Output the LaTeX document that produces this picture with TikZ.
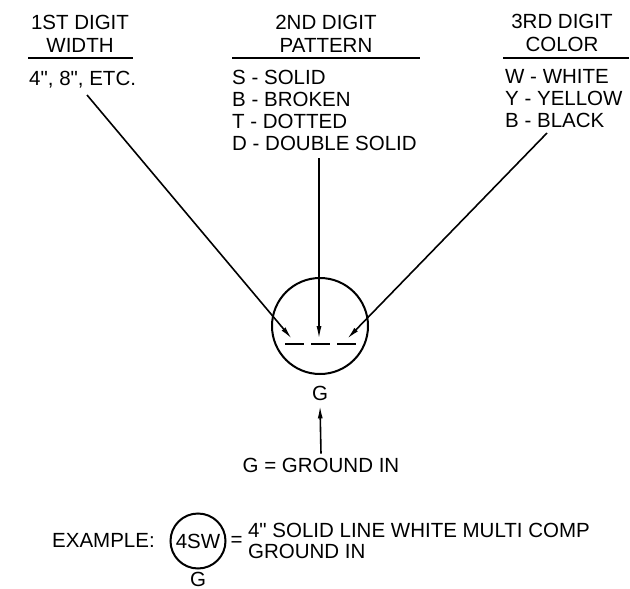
\documentclass[tikz,border=0pt]{standalone}
\usepackage{fontspec}
\setmainfont{Liberation Sans}[Ligatures=TeXOff]
\usetikzlibrary{arrows.meta, positioning}

\begin{document}
\begin{tikzpicture}[x=1pt, y=-1pt,
    head/.style={align=center, inner sep=0pt, font=\fontsize{20.5}{23}\selectfont},
    list/.style={align=left, inner sep=0pt, anchor=north west,
                 font=\fontsize{20.5}{22}\selectfont},
    rule/.style={line width=2.2pt},
    arr/.style={->, line width=1.6pt},
    >={Latex[length=13pt, width=5pt]}]
  \useasboundingbox (0,0) rectangle (630,589);
  % column heads
  \node[head] (h1) at (80,34) {1ST DIGIT\\ WIDTH};
  \node[head] (h2) at (326,34) {2ND DIGIT\\ PATTERN};
  \node[head] (h3) at (562,33) {3RD DIGIT\\ COLOR};
  \draw[rule] (28,58) -- (133,58);
  \draw[rule] (232,58) -- (420,58);
  \draw[rule] (503,58) -- (629,58);
  % codes
  \node[list] (l1) at (29,71) {4", 8", ETC.};
  \node[list] (l2) at (232,70) {S - SOLID\\ B - BROKEN\\ T - DOTTED\\ D - DOUBLE SOLID};
  \node[list] (l3) at (505,69) {W - WHITE\\ Y - YELLOW\\ B - BLACK};
  % symbol
  \node[draw, circle, minimum size=96pt, line width=2pt] (sym) at (320,326) {};
  \foreach \x in {-35,-9,17}
    \draw[rule] ([xshift=\x pt, yshift=-18pt]sym.center) -- ++(19,0);
  \coordinate (w) at (87,95);
  \coordinate (p) at (319,158);
  \coordinate (c) at (547,133);
  \coordinate (tw) at (292,339);
  \coordinate (tp) at (319,339);
  \coordinate (tc) at (347,339);
  \draw[arr] (w) -- (tw);
  \draw[arr] (p) -- (tp);
  \draw[arr] (c) -- (tc);
  \node[head] (g) at (320,393) {G};
  \node[head] (gi) at (321,465) {G = GROUND IN};
  \draw[arr] ([yshift=4pt]gi.north) -- ([yshift=-5pt]g.south);
  % example
  \node[head, anchor=west] (ex) at (52,540) {EXAMPLE:};
  \node[draw, circle, minimum size=55pt, inner sep=0pt, line width=2pt,
        font=\fontsize{20.5}{23}\selectfont] (exsym) at (198,541) {4SW};
  \node[head, right=4pt of exsym] (eq) {=};
  \node[list, anchor=west, font=\fontsize{20.5}{21}\selectfont, right=5pt of eq] (exdesc)
        {4" SOLID LINE WHITE MULTI COMP\\ GROUND IN};
  \node[head] (exg) at (198,579) {G};
\end{tikzpicture}
\end{document}
